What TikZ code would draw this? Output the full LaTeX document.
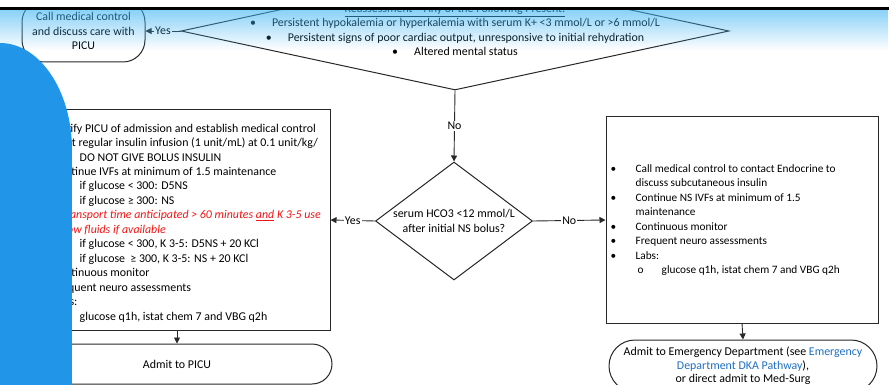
\documentclass[tikz,border=0pt]{standalone}
\usepackage{fontspec}
\setmainfont{Carlito}
\usetikzlibrary{arrows.meta,shapes.geometric,fadings}

\definecolor{linec}{RGB}{40,40,40}
\definecolor{panelblue}{RGB}{33,150,233}
\definecolor{bandblue}{RGB}{60,180,245}
\definecolor{alertred}{RGB}{245,20,20}
\definecolor{linkblue}{RGB}{31,111,191}

\tikzfading[name=bandfade, top color=transparent!40, bottom color=transparent!100]

% list markers
\newcommand{\bulpt}{\makebox[25pt][l]{\textbullet}}
\newcommand{\subpt}{\hspace*{27pt}\makebox[25pt][l]{o}}
\newcommand{\cbul}{\makebox[22pt][l]{\textbullet}}

\begin{document}
\begin{tikzpicture}[x=1pt, y=-1pt,
  font=\fontsize{11.9}{14.45}\selectfont,
  box/.style={draw=linec, line width=1pt, fill=white, inner sep=0pt},
  decision/.style={diamond, draw=linec, line width=1pt, fill=white, inner sep=0pt},
  conn/.style={draw=linec, line width=0.9pt, -{Triangle[length=6pt,width=6pt]}},
  lbl/.style={fill=white, inner sep=1pt},
  listtext/.style={anchor=west, align=left, inner sep=0pt}]

\useasboundingbox (0,0) rectangle (889,385);
\clip (0,0) rectangle (889,385);
\fill[white] (0,0) rectangle (889,385);

% reassessment decision
\node[decision, minimum width=548pt, minimum height=118pt] (reassess) at (455,31) {};
\node[align=center, inner sep=0pt] (reasstext) at (455,30)
  {\underline{Reassessment -- Any of the Following Present:}\\
   \cbul Persistent hypokalemia or hyperkalemia with serum K+ <3 mmol/L or >6 mmol/L\\
   \cbul Persistent signs of poor cardiac output, unresponsive to initial rehydration\\
   \cbul Altered mental status};

\node[box, rounded corners=22pt, minimum width=123pt, minimum height=62pt, align=center]
  (callpicu) at (83.5,31) {Call medical control\\and discuss care with\\PICU};

% bicarbonate decision
\node[decision, aspect=1.33, minimum width=157pt, minimum height=118pt, align=center]
  (bicarb) at (454,221) {serum HCO3 <12 mmol/L\\after initial NS bolus?};

% PICU management box
\node[box, minimum width=306pt, minimum height=220pt] (picubox) at (177,220) {};
\node[listtext] (picutext) at ([xshift=4pt,yshift=-3pt]picubox.west)
  {\bulpt Notify PICU of admission and establish medical control\\
   \bulpt Start regular insulin infusion (1 unit/mL) at 0.1 unit/kg/\\
   \hspace*{52pt}DO NOT GIVE BOLUS INSULIN\\
   \bulpt Continue IVFs at minimum of 1.5 maintenance\\
   \subpt if glucose < 300: D5NS\\
   \subpt if glucose ≥ 300: NS\\
   \hspace*{25pt}{\color{alertred}\itshape If transport time anticipated > 60 minutes \underline{and} K 3-5 use}\\
   \hspace*{25pt}{\color{alertred}\itshape below fluids if available}\\
   \subpt if glucose < 300, K 3-5: D5NS + 20 KCl\\
   \subpt if glucose \ ≥ 300, K 3-5: NS + 20 KCl\\
   \bulpt Continuous monitor\\
   \bulpt Frequent neuro assessments\\
   \bulpt Labs:\\
   \subpt glucose q1h, istat chem 7 and VBG q2h};

% ED management box
\node[box, minimum width=272pt, minimum height=206pt] (edbox) at (742,220) {};
\node[listtext, font=\fontsize{11.3}{14.45}\selectfont] (edtext) at ([xshift=5pt]edbox.west)
  {\bulpt Call medical control to contact Endocrine to\\
   \hspace*{25pt}discuss subcutaneous insulin\\
   \bulpt Continue NS IVFs at minimum of 1.5\\
   \hspace*{25pt}maintenance\\
   \bulpt Continuous monitor\\
   \bulpt Frequent neuro assessments\\
   \bulpt Labs:\\
   \hspace*{27pt}\makebox[24pt][l]{o}glucose q1h, istat chem 7 and VBG q2h};

% terminals
\node[box, rounded corners=20pt, minimum width=310pt, minimum height=40pt]
  (admitpicu) at (177,364) {Admit to PICU};
\node[box, rounded corners=26pt, minimum width=268pt, minimum height=52pt, align=center,
  font=\fontsize{11.9}{13.5}\selectfont]
  (admited) at (743,366)
  {Admit to Emergency Department (see \textcolor{linkblue}{Emergency}\\
   \textcolor{linkblue}{Department DKA Pathway}),\\
   or direct admit to Med-Surg};

% connectors
\draw[conn] (reassess.west) -- node[lbl] {Yes} (callpicu.east);
\draw[conn] (reassess.south) -- node[lbl] {No} (bicarb.north);
\draw[conn] (bicarb.west) -- node[lbl] {Yes} (picubox.east);
\draw[conn] (bicarb.east) -- node[lbl] {No} (edbox.west);
\draw[conn] (picubox.south) -- (admitpicu.north);
\draw[conn] (edbox.south) -- (admited.north);

% blue side panel
\fill[panelblue] (0,150) ellipse [x radius=72pt, y radius=107pt];
\fill[panelblue] (0,150) rectangle (72,390);

% header band
\fill[bandblue, path fading=bandfade] (0,10) rectangle (889,50);
\fill[white] (0,0) rectangle (889,7.5);
\fill[black] (0,7.5) rectangle (889,10);
\end{tikzpicture}
\end{document}
